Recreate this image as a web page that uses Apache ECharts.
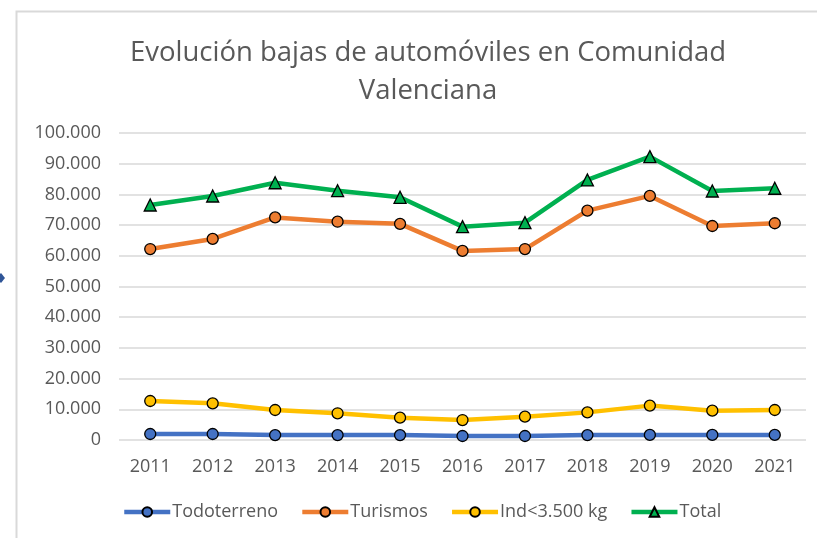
<!DOCTYPE html>
<html>
<head>
<meta charset="utf-8">
<script src="https://cdn.jsdelivr.net/npm/echarts@6/dist/echarts.min.js"></script>
<style>
  html, body { margin: 0; padding: 0; background: #fff; }
  #chart { width: 817px; height: 538px; }
</style>
</head>
<body>
<div id="chart"></div>
<script>
// data
const years = ['2011', '2012', '2013', '2014', '2015', '2016', '2017', '2018', '2019', '2020', '2021']
const todoterreno = [1950, 1950, 1600, 1600, 1600, 1300, 1300, 1600, 1650, 1650, 1650]
const turismos = [62200, 65500, 72500, 71100, 70400, 61600, 62200, 74700, 79500, 69700, 70600]
const industriales = [12700, 11950, 9770, 8700, 7270, 6500, 7600, 9000, 11200, 9550, 9770]
const total = [76550, 79480, 83800, 81200, 79050, 69500, 70800, 84700, 92300, 81100, 82000]

const font = 'Open Sans'
const grey = '#595959'

function fmt (v) {
  return v === 0 ? '0' : String(v).replace(/\B(?=(\d{3})+(?!\d))/g, '.')
}

function line (name, data, color, symbol) {
  return {
    name,
    type: 'line',
    data,
    symbol,
    symbolSize: symbol === 'triangle' ? 12 : 11,
    lineStyle: { color, width: 4.5 },
    itemStyle: { color, borderColor: '#000', borderWidth: 1.3 },
    emphasis: { disabled: true }
  }
}

const chart = echarts.init(document.getElementById('chart'))

chart.setOption({
  animation: false,
  title: {
    text: 'Evolución bajas de automóviles en Comunidad\nValenciana',
    left: 423,
    top: 29,
    textAlign: 'center',
    textStyle: {
      fontFamily: font,
      fontWeight: 'normal',
      fontSize: 27.5,
      lineHeight: 38,
      color: grey
    }
  },
  graphic: [
    {
      type: 'rect',
      shape: { x: 16.5, y: 11.5, width: 900, height: 600 },
      style: { fill: 'none', stroke: '#d9d9d9', lineWidth: 2 },
      silent: true
    },
    {
      type: 'polygon',
      shape: { points: [[-4, 278], [1, 273], [5, 278], [1, 283]] },
      style: { fill: '#2f5597' },
      silent: true
    }
  ],
  legend: {
    bottom: 12,
    left: 117,
    itemGap: 22,
    itemWidth: 46,
    itemHeight: 12,
    lineStyle: { width: 4.5 },
    textStyle: { fontFamily: font, fontSize: 18, color: grey, padding: [0, 0, 0, -3] },
    data: ['Todoterreno', 'Turismos', 'Ind<3.500 kg', 'Total']
  },
  grid: {
    left: 119,
    right: 11,
    top: 133,
    bottom: 98
  },
  xAxis: {
    type: 'category',
    data: years,
    boundaryGap: true,
    axisLine: { show: false },
    axisTick: { show: false },
    axisLabel: { fontFamily: font, fontSize: 18, color: grey, margin: 18 }
  },
  yAxis: {
    type: 'value',
    min: 0,
    max: 100000,
    interval: 10000,
    axisLine: { show: false },
    axisTick: { show: false },
    splitLine: { lineStyle: { color: '#d9d9d9', width: 1.5 } },
    axisLabel: { fontFamily: font, fontSize: 18, color: grey, margin: 18, formatter: fmt }
  },
  series: [
    line('Todoterreno', todoterreno, '#4472c4', 'circle'),
    line('Turismos', turismos, '#ed7d31', 'circle'),
    line('Ind<3.500 kg', industriales, '#ffc000', 'circle'),
    line('Total', total, '#00b050', 'triangle')
  ]
})
</script>
</body>
</html>
